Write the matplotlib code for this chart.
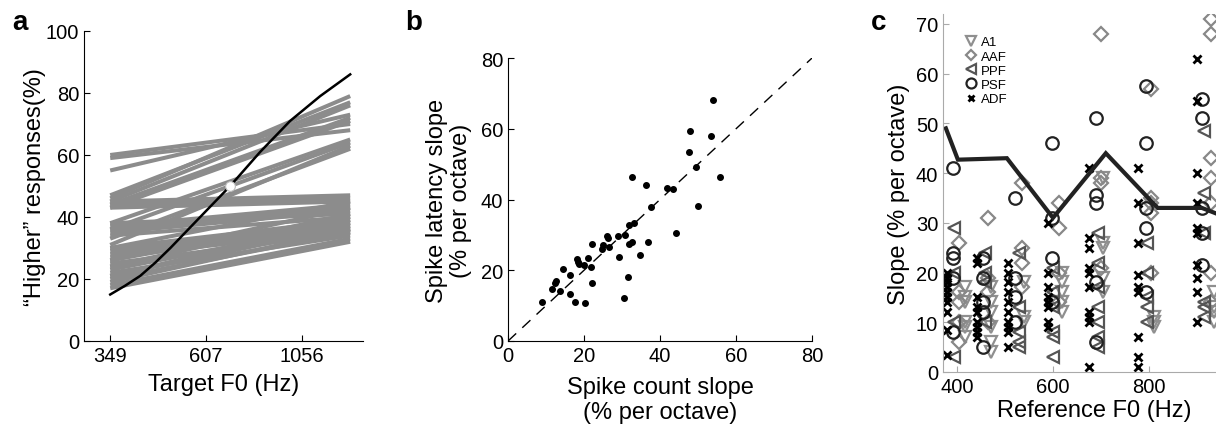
import matplotlib
matplotlib.use('Agg')
from matplotlib import pyplot as plt
import numpy as np

plt.rcParams['font.family'] = ['Liberation Sans', 'DejaVu Sans']

# ---- panel a: psychometric lines (start at 349 Hz, end at 1396 Hz)
f0_ticks = [349, 607, 1056]
line_f = [349, 1396]
line_start = [60, 59, 55, 47, 46, 45, 44, 43, 38, 36, 33, 31,
              45, 44, 43, 37, 36, 35, 38, 34, 30, 29, 28, 27, 26, 25,
              24, 23, 22, 21, 20, 19, 18, 17, 21, 24, 26, 30]
line_end = [70, 68, 73, 77, 79, 76, 72, 71, 65, 64, 62, 63,
            47, 46, 45, 44, 43, 42, 41, 40, 39, 38, 37, 36, 40, 35,
            36, 38, 34, 37, 35, 36, 33, 32, 39, 41, 43, 45]
curve_f = [349, 380, 415, 453, 494, 587, 698, 830, 987, 1174, 1396]
curve_pct = [15, 17.8, 21, 25.3, 30, 40, 50, 61, 71, 79, 86]
pse_f, pse_pct = 698, 50

# ---- panel b: slopes
count_slope = [9.0, 11.6, 12.3, 12.6, 13.7, 14.5, 16.3, 16.3, 17.5, 18.2, 18.4,
               18.7, 20.0, 20.3, 21.1, 21.7, 22.1, 22.2, 24.6, 25.1, 26.1, 26.4,
               26.6, 28.9, 29.2, 30.4, 30.9, 31.6, 31.8, 31.8, 32.5, 32.7, 33.2,
               34.8, 36.3, 36.9, 37.6, 41.9, 43.5, 44.2, 47.6, 47.9, 49.4, 49.9,
               53.4, 53.9, 55.7]
latency_slope = [11.0, 14.6, 16.5, 17.1, 14.2, 20.3, 18.7, 13.3, 11.0, 23.1, 22.3,
                 21.8, 21.6, 10.8, 23.5, 20.9, 16.5, 27.4, 26.1, 27.0, 29.6, 29.1,
                 26.6, 29.7, 23.7, 12.1, 30.1, 18.1, 32.8, 27.4, 46.4, 28.0, 33.3,
                 24.4, 44.2, 28.0, 37.8, 43.3, 43.0, 30.5, 53.3, 59.5, 49.2, 38.2,
                 58.0, 68.2, 46.4]

# ---- panel c: slopes by area
a1_f = [417]*6 + [470]*6 + [540]*3 + [618]*5 + [705]*5 + [810]*3 + [935]*4
a1_s = [17, 15, 14, 10, 9, 7, 17, 14, 12, 9, 6, 4, 18, 11, 10,
        20, 18, 16, 14, 12, 39, 26, 25, 19, 16, 11, 10, 9, 16, 13, 12, 10]
aaf_f = [405]*5 + [465]*4 + [535]*4 + [613]*4 + [700]*4 + [805]*5 + [930]*7
aaf_s = [26, 16, 14, 10, 6, 31, 19, 16, 10, 38, 25, 22, 17, 34, 29, 20, 14,
         68, 39, 38, 21, 57, 35, 34, 32, 20, 71, 68, 43, 39, 34, 20, 14]
ppf_f = [393]*4 + [458]*4 + [530]*5 + [600]*6 + [693]*7 + [795]*5 + [915]*6
ppf_s = [29, 20, 10, 3, 24, 20, 18, 10, 24, 13, 8, 6, 5, 21, 16, 13, 8, 7, 3,
         28, 22, 17, 13, 10, 7, 5, 26, 20, 15, 13, 10, 48.5, 36, 28, 14, 13, 11]
psf_f = [392]*5 + [454]*5 + [520]*4 + [598]*4 + [690]*5 + [793]*5 + [910]*5
psf_s = [41, 24, 23, 19, 8, 23, 19, 14, 12, 5, 35, 19, 15, 10, 46, 31, 23, 14,
         51, 35.5, 34, 18, 6, 57.5, 46, 33, 29, 16, 55, 51, 33, 28, 21.5]
adf_f = [379]*10 + [442]*9 + [506]*10 + [590]*8 + [676]*10 + [777]*9 + [900]*10
adf_s = [20, 19, 18, 17, 16, 15, 14, 12, 8.5, 3.5,
         23, 22, 15, 13, 12, 10, 9, 8, 7,
         22, 20, 18, 16, 14, 12, 10, 9, 8, 5,
         30, 20, 17, 15, 14, 13, 10, 9,
         41, 27, 25, 21, 20, 17, 12, 11, 10, 1,
         41, 34, 26, 19.5, 17, 16, 7, 3, 1,
         63, 54.5, 40, 34, 29, 28, 21.5, 19, 16, 10]
mean_f = [377, 402, 504, 600, 710, 818, 910, 950]
mean_s = [49, 42.7, 43, 31, 44, 33, 33, 31.5]

tick_fs = 14.5
label_fs = 17

fig = plt.figure(figsize=(12.16, 4.31), dpi=100)


def style(ax, spine_color='black'):
    for s in ['top', 'right']:
        ax.spines[s].set_visible(False)
    for s in ['left', 'bottom']:
        ax.spines[s].set_color(spine_color)
    ax.tick_params(direction='in', length=4, labelsize=tick_fs, color=spine_color)


# panel a
ax1 = fig.add_axes([0.0691, 0.2065, 0.2294, 0.7193])
for s0, s1 in zip(line_start, line_end):
    ax1.plot(line_f, [s0, s1], color='#8c8c8c', lw=2.9, solid_capstyle='butt')
ax1.plot(curve_f, curve_pct, color='black', lw=1.8)
ax1.plot(pse_f, pse_pct, 'o', ms=7, mfc='white', mec='#bbbbbb', mew=0.8)
ax1.set_xscale('log')
ax1.set_xlim(300, 1503)
ax1.set_ylim(0, 100)
ax1.set_xticks(f0_ticks)
ax1.set_xticklabels([str(v) for v in f0_ticks])
ax1.minorticks_off()
ax1.set_yticks([0, 20, 40, 60, 80, 100])
style(ax1)
ax1.set_xlabel('Target F0 (Hz)', fontsize=label_fs, labelpad=6)
ax1.set_ylabel('\u201cHigher\u201d responses(%)', fontsize=label_fs, labelpad=0)
fig.text(0.010, 0.93, 'a', fontsize=20, fontweight='bold')

# panel b
ax2 = fig.add_axes([0.4178, 0.2065, 0.25, 0.6566])
ax2.plot([0, 80], [0, 80], color='black', lw=1, dashes=(8, 6))
ax2.plot(count_slope, latency_slope, 'o', color='black', ms=4)
ax2.set_xlim(0, 80)
ax2.set_ylim(0, 80)
ax2.set_xticks([0, 20, 40, 60, 80])
ax2.set_yticks([0, 20, 40, 60, 80])
style(ax2)
ax2.set_xlabel('Spike count slope\n(% per octave)', fontsize=label_fs, labelpad=8,
               linespacing=1.15)
ax2.set_ylabel('Spike latency slope\n(% per octave)', fontsize=label_fs, labelpad=6,
               linespacing=1.15)
fig.text(0.333, 0.93, 'b', fontsize=20, fontweight='bold')

# panel c
ax3 = fig.add_axes([0.7755, 0.1346, 0.2484, 0.8306])
ms = 9
ax3.plot(a1_f, a1_s, 'v', ls='none', ms=ms, mfc='none', mec='#8f8f8f', mew=1.6, label='A1')
ax3.plot(aaf_f, aaf_s, 'D', ls='none', ms=ms - 2, mfc='none', mec='#888888', mew=1.6, label='AAF')
ax3.plot(ppf_f, ppf_s, '<', ls='none', ms=ms, mfc='none', mec='#555555', mew=1.6, label='PPF')
ax3.plot(psf_f, psf_s, 'o', ls='none', ms=ms, mfc='none', mec='#222222', mew=1.6, label='PSF')
ax3.plot(adf_f, adf_s, 'x', ls='none', ms=6, mec='black', mew=2, label='ADF')
ax3.plot(mean_f, mean_s, color='#222222', lw=3, solid_joinstyle='miter')
ax3.set_xlim(371, 1000)
ax3.set_ylim(0, 72)
ax3.set_xticks([400, 600, 800])
ax3.set_yticks(range(0, 71, 10))
style(ax3, '#aaaaaa')
ax3.tick_params(labelcolor='black')
ax3.set_xlabel('Reference F0 (Hz)', fontsize=label_fs, labelpad=2)
ax3.set_ylabel('Slope (% per octave)', fontsize=label_fs, labelpad=4)
leg = ax3.legend(loc='upper left', bbox_to_anchor=(0.05, 0.96), frameon=False,
                 fontsize=9.5, handlelength=0.8, handletextpad=0.35,
                 labelspacing=0.15, markerscale=0.8, borderaxespad=0.2)
fig.text(0.716, 0.93, 'c', fontsize=20, fontweight='bold')

fig.savefig('out.png', dpi=100)
